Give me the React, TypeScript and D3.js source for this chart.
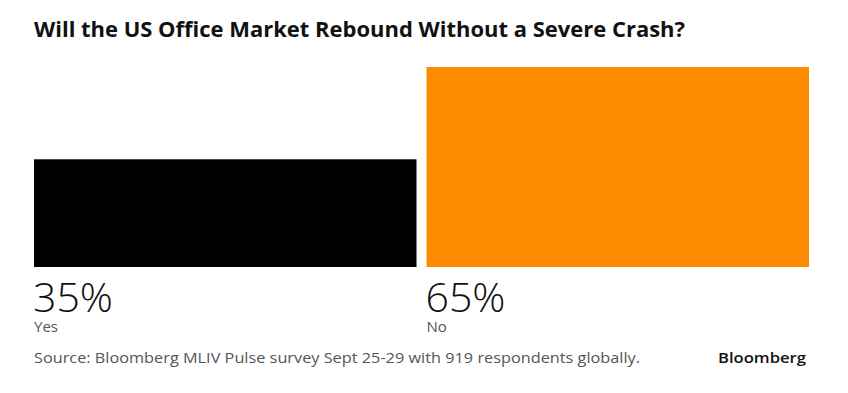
import React from "react";
import * as d3 from "d3";

// survey answers
const answers = ["Yes", "No"];
const shares = [35, 65];
const colors = ["#000000", "#ff8c00"];

const title = "Will the US Office Market Rebound Without a Severe Crash?";
const source = "Source: Bloomberg MLIV Pulse survey Sept 25-29 with 919 respondents globally.";

const W = 848;
const H = 393;
const margin = { top: 67, right: 39, bottom: 126, left: 34 };

const App = () => {
  const x = d3
    .scaleBand<string>()
    .domain(answers)
    .range([margin.left, W - margin.right])
    .paddingInner(0.0255);

  const y = d3
    .scaleLinear()
    .domain([0, d3.max(shares) as number])
    .range([H - margin.bottom, margin.top]);

  const base = y(0);

  return (
    <svg
      width={W}
      height={H}
      style={{ position: "absolute", left: 0, top: 0, background: "#fff" }}
      fontFamily="'Open Sans', 'Noto Sans', sans-serif"
    >
      <text
        x={34}
        y={37}
        fontSize={22}
        fontWeight={700}
        fill="#111"
        textLength={651}
        lengthAdjust="spacingAndGlyphs"
      >
        {title}
      </text>

      {answers.map((a, i) => (
        <g key={a}>
          <rect
            x={x(a)}
            y={y(shares[i])}
            width={x.bandwidth()}
            height={base - y(shares[i])}
            fill={colors[i]}
          />
          {/* big share label, then the answer under it */}
          <text
            x={(x(a) as number) - 1}
            y={312}
            fontSize={41}
            fontWeight={300}
            fill="#111"
          >
            {shares[i]}%
          </text>
          <text x={x(a)} y={332} fontSize={15} fill="#555">
            {a}
          </text>
        </g>
      ))}

      <text
        x={34}
        y={363}
        fontSize={15}
        fill="#555"
        textLength={606}
        lengthAdjust="spacingAndGlyphs"
      >
        {source}
      </text>
      <text
        x={718}
        y={363}
        fontSize={15}
        fontWeight={600}
        fill="#111"
        textLength={88}
        lengthAdjust="spacingAndGlyphs"
      >
        Bloomberg
      </text>
    </svg>
  );
};

export default App;
